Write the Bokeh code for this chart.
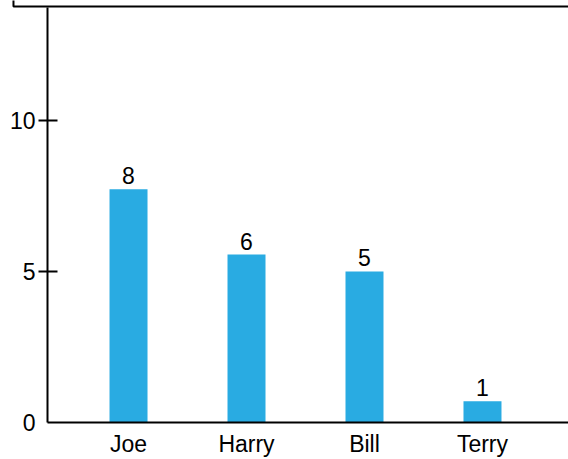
from bokeh.plotting import figure
from bokeh.models import Range1d, FixedTicker, BoxAnnotation, ColumnDataSource, LinearAxis
from bokeh.core.properties import value
from bokeh.embed import file_html
from bokeh.resources import INLINE

names = ["Joe", "Harry", "Bill", "Terry"]
values = [7.72, 5.56, 5.0, 0.70]
labels = [str(round(v)) for v in values]
y_ticks = [5, 10]
y_zero = [0]

positions = list(range(len(names)))
FONT = "Liberation Sans"
FS = "23px"

src = ColumnDataSource(dict(x=positions, top=values, label=labels))

p = figure(width=568, height=459, output_backend="svg", toolbar_location=None,
           x_range=Range1d(-1.085, 3.729),
           y_range=Range1d(-1.225, 13.97),
           x_axis_location=None, y_axis_location=None,
           min_border_left=0, min_border_right=0, min_border_top=0, min_border_bottom=0)
p.outline_line_color = None
p.xgrid.visible = False
p.ygrid.visible = False
p.background_fill_color = "white"
p.border_fill_color = "white"

p.vbar(x="x", top="top", width=0.322, bottom=0, source=src,
       fill_color="#29abe2", line_color=None)
p.text(x="x", y="top", text="label", source=src,
       text_font=value(FONT), text_font_size=FS, text_color="black",
       text_align="center", text_baseline="bottom", y_offset=-5)

AXIS_X = -0.686

xa = LinearAxis(ticker=FixedTicker(ticks=positions), fixed_location=0,
                bounds=(AXIS_X, 10))
xa.major_label_overrides = {i: n for i, n in zip(positions, names)}
xa.major_tick_line_color = None
xa.major_tick_in = 0
xa.major_tick_out = 0
xa.minor_tick_line_color = None
xa.axis_line_width = 2
xa.axis_line_color = "black"
xa.major_label_text_font = FONT
xa.major_label_text_font_size = FS
xa.major_label_text_color = "black"
xa.major_label_standoff = 9
p.add_layout(xa, "below")

ya = LinearAxis(ticker=FixedTicker(ticks=y_ticks), fixed_location=AXIS_X,
                bounds=(0, 13.74))
ya.minor_tick_line_color = None
ya.axis_line_width = 2
ya.axis_line_color = "black"
ya.major_tick_line_width = 2
ya.major_tick_line_color = "black"
ya.major_tick_in = 10
ya.major_tick_out = 9
ya.major_label_text_font = FONT
ya.major_label_text_font_size = FS
ya.major_label_text_color = "black"
ya.major_label_standoff = 3
p.add_layout(ya, "left")

y0 = LinearAxis(ticker=FixedTicker(ticks=y_zero), fixed_location=AXIS_X)
y0.axis_line_color = None
y0.major_tick_line_color = None
y0.minor_tick_line_color = None
y0.major_tick_in = 0
y0.major_tick_out = 0
y0.major_label_text_font = FONT
y0.major_label_text_font_size = FS
y0.major_label_text_color = "black"
y0.major_label_standoff = 12
p.add_layout(y0, "left")

box = BoxAnnotation(left=-0.975, right=10, bottom=13.775, top=30,
                    fill_alpha=0, line_color="black", line_width=2, line_alpha=1)
p.add_layout(box)

open("out.html", "w").write(file_html(p, INLINE))
